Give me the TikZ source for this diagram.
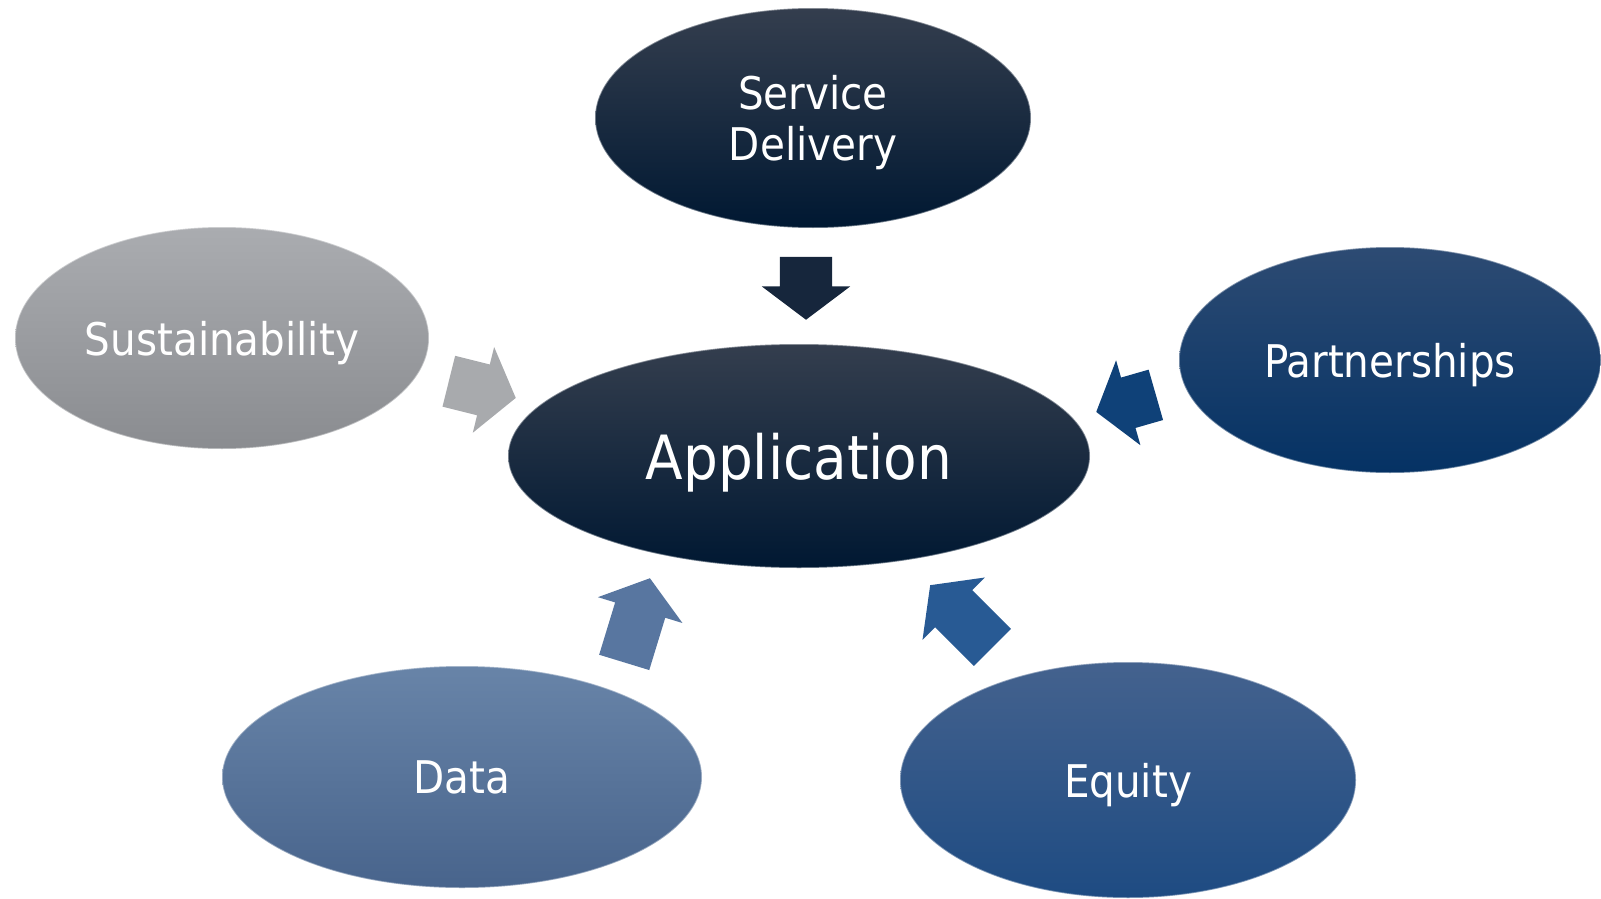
\documentclass[tikz,border=0pt]{standalone}
\usepackage{fontspec}
\setmainfont{DejaVu Sans Condensed}
\usetikzlibrary{shapes.geometric,shapes.arrows}

\definecolor{navytop}{RGB}{52,62,78}
\definecolor{navybot}{RGB}{0,24,50}
\definecolor{graytop}{RGB}{170,172,176}
\definecolor{graybot}{RGB}{138,140,144}
\definecolor{parttop}{RGB}{45,75,115}
\definecolor{partbot}{RGB}{5,50,100}
\definecolor{datatop}{RGB}{104,132,168}
\definecolor{databot}{RGB}{72,100,140}
\definecolor{eqtop}{RGB}{68,98,142}
\definecolor{eqbot}{RGB}{30,75,130}
\definecolor{arrnavy}{RGB}{22,38,60}
\definecolor{arrgray}{RGB}{168,170,173}
\definecolor{arrpart}{RGB}{15,65,120}
\definecolor{arrdata}{RGB}{88,118,160}
\definecolor{arreq}{RGB}{40,90,148}

\tikzstyle{bubble}=[ellipse,inner sep=0pt,text=white,text depth=0pt,draw=white,draw opacity=0.4,line width=1.5pt,font=\fontsize{45}{51}\selectfont,align=center]
\tikzstyle{blockarrow}=[single arrow,anchor=tip,inner xsep=0pt,inner ysep=26pt,minimum width=88pt,single arrow head extend=18pt,single arrow tip angle=106]

\begin{document}
\begin{tikzpicture}[x=1pt,y=-1pt]
    \useasboundingbox (0,0) rectangle (1601,899);
    % the ellipses
    \node[bubble,minimum width=582pt,minimum height=224pt,top color=navytop,bottom color=navybot,font=\fontsize{61}{70}\selectfont] (app) at (799,456) {Application};
    \node[bubble,minimum width=436pt,minimum height=220pt,top color=navytop,bottom color=navybot] (service) at (813,118) {Service\\Delivery};
    \node[bubble,minimum width=414pt,minimum height=222pt,top color=graytop,bottom color=graybot] (sustain) at (222,338) {Sustainability};
    \node[bubble,minimum width=422pt,minimum height=226pt,top color=parttop,bottom color=partbot] (partner) at (1390,360) {Partnerships};
    \node[bubble,minimum width=480pt,minimum height=222pt,top color=datatop,bottom color=databot] (data) at (462,777) {Data};
    \node[bubble,minimum width=456pt,minimum height=236pt,top color=eqtop,bottom color=eqbot] (equity) at (1128,780) {Equity};
    % the block arrows, placed by their tips
    \foreach \pos/\ang/\len/\col/\name in {{(806,320)/270/63/arrnavy/serviceArr}, {(516,398)/-14/69/arrgray/sustainArr}, {(1096,412)/196/62/arrpart/partnerArr}, {(650,578)/73/88/arrdata/dataArr}, {(930,585)/135/88/arreq/equityArr}}
        \node[blockarrow,fill=\col,rotate=\ang,minimum height=\len pt] (\name) at \pos {};
\end{tikzpicture}
\end{document}
